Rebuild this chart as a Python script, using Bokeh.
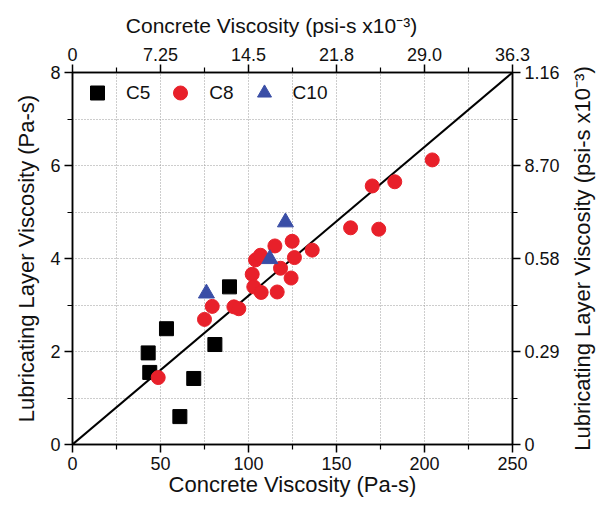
import math
from bokeh.plotting import figure
from bokeh.layouts import row
from bokeh.models import (LinearAxis, FixedTicker, Range1d, Legend, LegendItem, Title)
from bokeh.embed import file_html
from bokeh.resources import INLINE

# Data (Pa-s)
c5_x = [43.0, 43.9, 53.4, 80.9, 68.9, 61.0, 89.2]
c5_y = [1.97, 1.55, 2.49, 2.15, 1.42, 0.60, 3.39]

c8_x = [48.7, 75.0, 79.4, 91.7, 94.5, 102.1, 103.0, 107.2, 116.3, 118.2, 124.2,
        126.1, 104.0, 106.8, 115.0, 124.8, 136.2, 158.0, 174.0, 170.3, 183.1, 204.4]
c8_y = [1.44, 2.69, 2.97, 2.96, 2.92, 3.66, 3.39, 3.27, 3.28, 3.79, 3.58,
        4.02, 3.97, 4.07, 4.27, 4.37, 4.18, 4.66, 4.63, 5.56, 5.65, 6.12]

c10_x = [76.1, 112.1, 121.0]
c10_y = [3.25, 3.99, 4.78]

line_x = [0, 250]
line_y = [0, 8]

bottom_ticks = [0, 50, 100, 150, 200, 250]
top_tick_labels = ["0", "7.25", "14.5", "21.8", "29.0", "36.3"]
left_ticks = [0, 2, 4, 6, 8]
right_tick_labels = ["0", "0.29", "0.58", "8.70", "1.16"]

right_title_text = "Lubricating Layer Viscosity (psi-s x10\u207b\u00b3)"

FONT = "Liberation Sans"
TICK_SIZE = "18px"

p = figure(width=567, height=505, output_backend="svg", toolbar_location=None,
           x_range=Range1d(0, 250), y_range=Range1d(0, 8),
           min_border_left=72, min_border_right=55, min_border_top=72, min_border_bottom=61)
p.background_fill_color = "white"
p.border_fill_color = "white"
p.outline_line_color = "black"
p.outline_line_width = 1.5


def style_axis(ax):
    ax.axis_line_width = 1.5
    ax.axis_line_color = "black"
    ax.major_tick_line_width = 1.5
    ax.minor_tick_line_width = 1.2
    ax.major_tick_out = 8
    ax.major_tick_in = 0
    ax.minor_tick_out = 5
    ax.minor_tick_in = 0
    ax.major_label_text_font = FONT
    ax.major_label_text_font_size = TICK_SIZE
    ax.major_label_text_color = "#111111"
    ax.axis_label_text_font = FONT
    ax.axis_label_text_font_style = "normal"
    ax.axis_label_text_color = "#111111"


p.xaxis.ticker = FixedTicker(ticks=bottom_ticks, minor_ticks=[25, 75, 125, 175, 225])
p.yaxis.ticker = FixedTicker(ticks=left_ticks, minor_ticks=[1, 3, 5, 7])
p.xaxis.axis_label = "Concrete Viscosity (Pa-s)"
p.yaxis.axis_label = "Lubricating Layer Viscosity (Pa-s)"
style_axis(p.xaxis[0])
style_axis(p.yaxis[0])
p.xaxis.axis_label_text_font_size = "22px"
p.yaxis.axis_label_text_font_size = "22px"
p.xaxis.axis_label_standoff = -1
p.yaxis.axis_label_standoff = 8
p.xaxis.major_label_standoff = 4
p.yaxis.major_label_standoff = 4

top = LinearAxis(ticker=FixedTicker(ticks=bottom_ticks, minor_ticks=[25, 75, 125, 175, 225]),
                 axis_label="Concrete Viscosity (psi-s x10\u207b\u00b3)\u2003\u2003",
                 major_label_overrides={t: l for t, l in zip(bottom_ticks, top_tick_labels)})
style_axis(top)
top.axis_label_text_font_size = "21px"
top.axis_label_standoff = 8
top.major_label_standoff = 4
p.add_layout(top, "above")

right = LinearAxis(ticker=FixedTicker(ticks=left_ticks, minor_ticks=[1, 3, 5, 7]),
                   major_label_overrides={t: l for t, l in zip(left_ticks, right_tick_labels)})
style_axis(right)
right.major_label_standoff = 4
p.add_layout(right, "right")

p.xgrid.ticker = FixedTicker(ticks=[25, 50, 75, 100, 125, 150, 175, 200, 225])
p.ygrid.ticker = FixedTicker(ticks=[1, 2, 3, 4, 5, 6, 7])
for g in (p.xgrid[0], p.ygrid[0]):
    g.grid_line_color = "#9a9a9a"
    g.grid_line_dash = "1 2"
    g.grid_line_width = 1

p.line(line_x, line_y, line_color="black", line_width=2)

r5 = p.scatter(c5_x, c5_y, marker="square", size=14, fill_color="black", line_color="black")
r8 = p.scatter(c8_x, c8_y, marker="circle", size=14, fill_color="#e8202a", line_color="#e8202a")
r10 = p.scatter(c10_x, c10_y, marker="triangle", size=16, fill_color="#3a4ea6", line_color="#3a4ea6")

legend = Legend(items=[LegendItem(label="C5", renderers=[r5]),
                       LegendItem(label="C8", renderers=[r8]),
                       LegendItem(label="C10", renderers=[r10])],
                orientation="horizontal", location="top_left")
legend.border_line_alpha = 0
legend.background_fill_alpha = 0
legend.label_text_font = FONT
legend.label_text_font_size = "19px"
legend.label_text_color = "#111111"
legend.glyph_width = 44
legend.glyph_height = 35
legend.spacing = 8
legend.label_standoff = 7
legend.margin = 0
legend.padding = 3
p.add_layout(legend, "center")

# narrow side strip carrying the right-hand axis title (reads bottom-to-top)
p2 = figure(width=30, height=505, output_backend="svg", toolbar_location=None,
            x_range=Range1d(0, 1), y_range=Range1d(0, 1), min_border=0)
p2.axis.visible = False
p2.grid.visible = False
p2.outline_line_color = None
p2.background_fill_color = "white"
p2.border_fill_color = "white"
p2.title = None
rt = Title(text=right_title_text, align="center", text_font=FONT, text_font_size="22px",
           text_font_style="normal", text_color="#111111", standoff=0, offset=0)
p2.add_layout(rt, "left")

layout = row(p, p2, spacing=0)
open("out.html", "w").write(file_html(layout, INLINE))
